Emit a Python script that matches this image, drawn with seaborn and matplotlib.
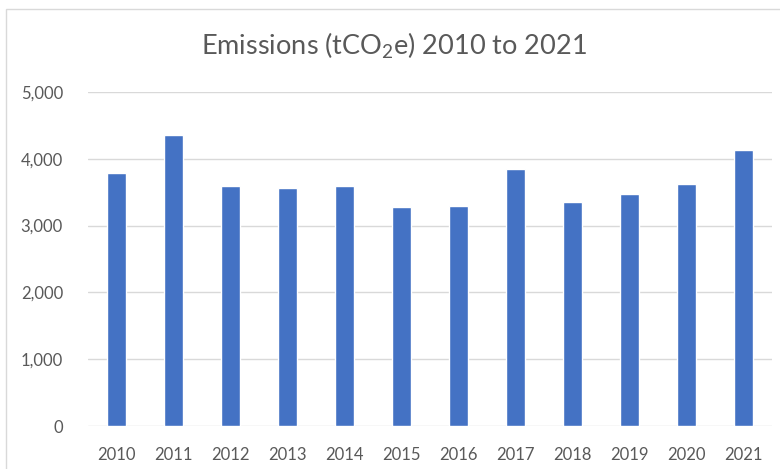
import matplotlib
matplotlib.use("Agg")
import matplotlib.pyplot as plt
import seaborn as sns
import pandas as pd
from matplotlib.patches import Rectangle
from matplotlib.ticker import FuncFormatter

years = ["2010", "2011", "2012", "2013", "2014", "2015", "2016", "2017", "2018", "2019", "2020", "2021"]
emissions = [3790, 4350, 3595, 3570, 3595, 3275, 3300, 3840, 3350, 3475, 3620, 4125]
yticks = [0, 1000, 2000, 3000, 4000, 5000]

sns.set_theme(style="white")
plt.rcParams['font.family'] = ['Lato', 'DejaVu Sans']
plt.rcParams['mathtext.fontset'] = 'custom'
plt.rcParams['mathtext.rm'] = 'Lato'
plt.rcParams['mathtext.it'] = 'Lato:italic'
plt.rcParams['mathtext.bf'] = 'Lato:bold'

df = pd.DataFrame({"year": years, "value": emissions})

fig = plt.figure(figsize=(7.8, 4.69), dpi=100)
ax = fig.add_axes([88/780, 43/469, 684/780, 334/469])

sns.barplot(data=df, x="year", y="value", color="#4472C4", saturation=1,
            width=0.32, ax=ax, zorder=3)

ax.set_ylim(0, 5000)
ax.set_xlim(-0.5, len(years) - 0.5)
ax.set_yticks(yticks)
ax.yaxis.set_major_formatter(FuncFormatter(lambda v, p: f"{int(v):,}"))
ax.grid(axis="y", color="#d9d9d9", linewidth=1.0, zorder=0)
ax.grid(axis="x", visible=False)
for s in ax.spines.values():
    s.set_visible(False)
ax.set_xlabel("")
ax.set_ylabel("")
ax.tick_params(axis="both", length=0, colors="#595959", labelsize=12)
ax.tick_params(axis="y", pad=18)
ax.tick_params(axis="x", pad=15)

fig.text(0.505, 0.903, r"Emissions (tCO$_\mathrm{2}$e) 2010 to 2021",
         ha="center", va="center", fontsize=19.5, color="#595959")

fig.patches.append(Rectangle((6/780, -0.05), 1.1, (469 - 9)/469 + 0.05,
                             transform=fig.transFigure, fill=False,
                             edgecolor="#d9d9d9", linewidth=1.0))

fig.savefig("out.png", dpi=100)
